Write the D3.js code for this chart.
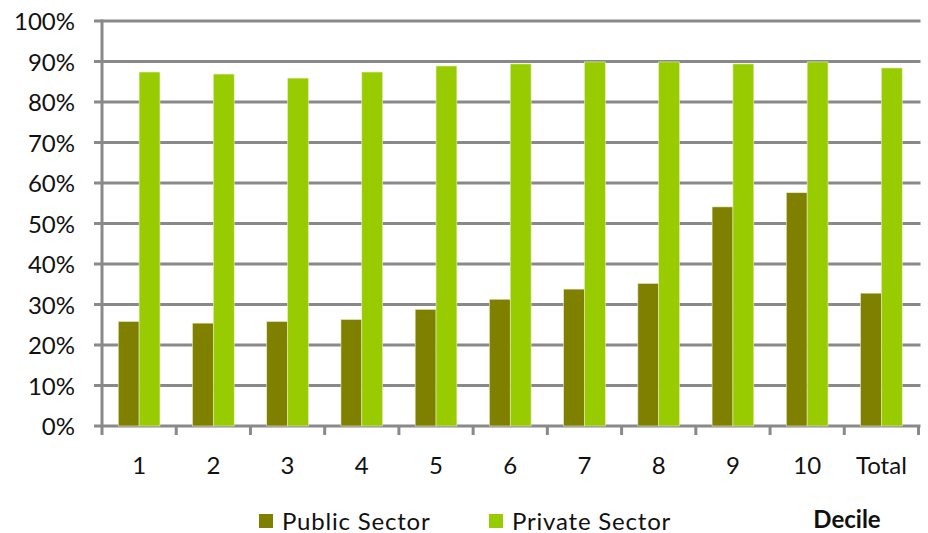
<!DOCTYPE html>
<html>
<head>
<meta charset="utf-8">
<script src="https://cdn.jsdelivr.net/npm/d3@7"></script>
<style>
  html, body { margin: 0; padding: 0; background: #fff; }
  text { font-family: Lato, "Open Sans", sans-serif; fill: #111; }
</style>
</head>
<body>
<svg id="chart" width="928" height="533"></svg>
<script>
const categories = ["1", "2", "3", "4", "5", "6", "7", "8", "9", "10", "Total"];
const publicSector = [25.8, 25.4, 25.8, 26.3, 28.8, 31.3, 33.8, 35.2, 54.1, 57.6, 32.8];
const privateSector = [87.4, 86.9, 85.9, 87.4, 88.9, 89.4, 89.9, 89.9, 89.4, 89.9, 88.4];
const seriesNames = ["Public Sector", "Private Sector"];
const seriesColors = ["#808000", "#99CC00"];
const yTicks = [0, 10, 20, 30, 40, 50, 60, 70, 80, 90, 100];
const xTitle = "Decile";

(function () {
const svg = d3.select("#chart");
const pLeft = 102, pRight = 918.5, pTop = 21, pBottom = 426;

const x = d3.scaleBand().domain(categories).range([pLeft, pRight]).paddingInner(0).paddingOuter(0);
const xi = d3.scaleBand().domain(seriesNames).range([0, x.bandwidth()]).paddingInner(0).paddingOuter(0.78);
const y = d3.scaleLinear().domain([0, 100]).range([pBottom, pTop]);

const gridColor = "#898989";

svg.append("g").selectAll("line").data(yTicks).join("line")
  .attr("x1", pLeft - 8).attr("x2", pRight + 2)
  .attr("y1", d => y(d)).attr("y2", d => y(d))
  .attr("stroke", gridColor).attr("stroke-width", 3);

const yAxis = d3.axisLeft(y).tickValues(yTicks).tickFormat(d => d + "%").tickSize(0).tickPadding(0);
const gy = svg.append("g").attr("transform", `translate(${pLeft - 27},0)`).call(yAxis);
gy.select(".domain").remove();
gy.selectAll("text").style("font-size", "24px").attr("fill", "#111").attr("dy", "0.36em");

const data = categories.map((c, i) => ({ c, vals: [publicSector[i], privateSector[i]] }));
const groups = svg.append("g").selectAll("g").data(data).join("g")
  .attr("transform", d => `translate(${x(d.c)},0)`);
groups.selectAll("rect").data(d => d.vals.map((v, k) => ({ v, k }))).join("rect")
  .attr("x", d => xi(seriesNames[d.k]))
  .attr("width", xi.bandwidth())
  .attr("y", d => y(d.v))
  .attr("height", d => y(0) - y(d.v))
  .attr("fill", d => seriesColors[d.k])
  .attr("stroke", "#e6ecc8").attr("stroke-width", 0.6);

svg.append("line").attr("x1", pLeft).attr("x2", pLeft).attr("y1", pTop - 1.5).attr("y2", pBottom + 9)
  .attr("stroke", gridColor).attr("stroke-width", 3);

const bounds = categories.map(c => x(c)).concat([pRight]);
svg.append("g").selectAll("line").data(bounds.slice(1)).join("line")
  .attr("x1", d => d).attr("x2", d => d).attr("y1", pBottom).attr("y2", pBottom + 9)
  .attr("stroke", gridColor).attr("stroke-width", 3);

const xAxis = d3.axisBottom(x).tickSize(0).tickPadding(0);
const gx = svg.append("g").attr("transform", `translate(0,${pBottom + 39})`).call(xAxis);
gx.select(".domain").remove();
gx.selectAll("text").style("font-size", "24px").attr("fill", "#111").attr("dy", "0.36em");

const legendX = [259, 489];
const lg = svg.append("g").selectAll("g").data(seriesNames).join("g")
  .attr("transform", (d, i) => `translate(${legendX[i]},514)`);
lg.append("rect").attr("width", 14).attr("height", 14).attr("fill", (d, i) => seriesColors[i]);
lg.append("text").attr("x", 23).attr("y", 15.5).style("font-size", "24px").style("letter-spacing", "0.8px").text(d => d);

svg.append("text").attr("x", 847).attr("y", 528).attr("text-anchor", "middle")
  .style("font-size", "24px").style("font-weight", "bold").text(xTitle);
})();
</script>
</body>
</html>
